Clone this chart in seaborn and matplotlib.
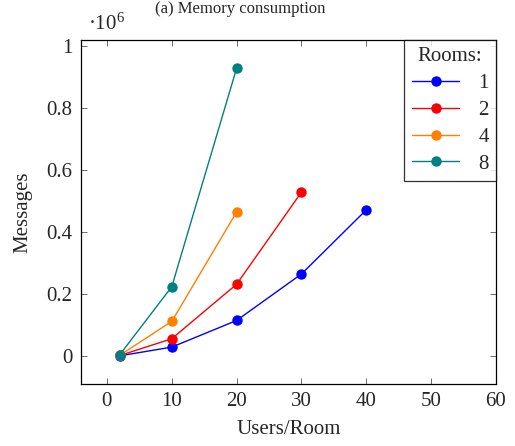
import matplotlib
matplotlib.use("Agg")
import matplotlib.pyplot as plt
import seaborn as sns
import pandas as pd

rooms = ["1", "2", "4", "8"]
users = {
    "1": [2, 10, 20, 30, 40],
    "2": [2, 10, 20, 30],
    "4": [2, 10, 20],
    "8": [2, 10, 20],
}
messages = {
    "1": [0.001, 0.029, 0.115, 0.265, 0.472],
    "2": [0.002, 0.056, 0.232, 0.529],
    "4": [0.003, 0.112, 0.465],
    "8": [0.005, 0.224, 0.929],
}
colors = ["#0000ff", "#ff0000", "#ff8000", "#008080"]
xticks = [0, 10, 20, 30, 40, 50, 60]
yticks = [0, 0.2, 0.4, 0.6, 0.8, 1]

rows = []
for r in rooms:
    for x, y in zip(users[r], messages[r]):
        rows.append({"Users": x, "Messages": y, "Rooms": r})
df = pd.DataFrame(rows)

sns.set_theme(style="ticks")
plt.rcParams["font.family"] = ["Liberation Serif", "DejaVu Serif"]
plt.rcParams["mathtext.fontset"] = "custom"
plt.rcParams["mathtext.rm"] = "Liberation Serif"
plt.rcParams["mathtext.it"] = "Liberation Serif:italic"

fig = plt.figure(figsize=(5.15, 4.46), dpi=100)
ax = fig.add_axes([81/515, 1 - 384/446, (496-81)/515, (384-40)/446])

sns.lineplot(data=df, x="Users", y="Messages", hue="Rooms", hue_order=rooms,
             palette=colors, marker="o", markersize=7.5, markeredgewidth=0,
             linewidth=1, ax=ax)

ax.set_xlim(-4, 60)
ax.set_ylim(-0.09, 1.02)
ax.set_xticks(xticks)
ax.set_yticks(yticks)
ax.set_yticklabels(["0", "0.2", "0.4", "0.6", "0.8", "1"])
ax.tick_params(direction="in", top=True, right=True, length=4, labelsize=15,
               width=0.6, color="#555555", pad=6)
for s in ax.spines.values():
    s.set_linewidth(0.9)
    s.set_color("black")
ax.set_xlabel("Users/Room", fontsize=15, labelpad=6)
ax.set_ylabel("Messages", fontsize=15, labelpad=10)

fig.text(88/515, 1 - 30/446, r"·10$^{6}$", fontsize=15, va="baseline")
fig.text(240/515, 1 - 1/446, "(a) Memory consumption", fontsize=12,
         ha="center", va="top")

leg = ax.legend(title="Rooms:", loc="upper right", bbox_to_anchor=(1.0, 1.0),
                frameon=True, fancybox=False, fontsize=15, title_fontsize=15,
                borderaxespad=0, handlelength=2.3, handletextpad=0.9,
                labelspacing=0.35, borderpad=0.35)
leg.get_frame().set_edgecolor("black")
leg.get_frame().set_linewidth(0.9)

fig.savefig("out.png", dpi=100)
